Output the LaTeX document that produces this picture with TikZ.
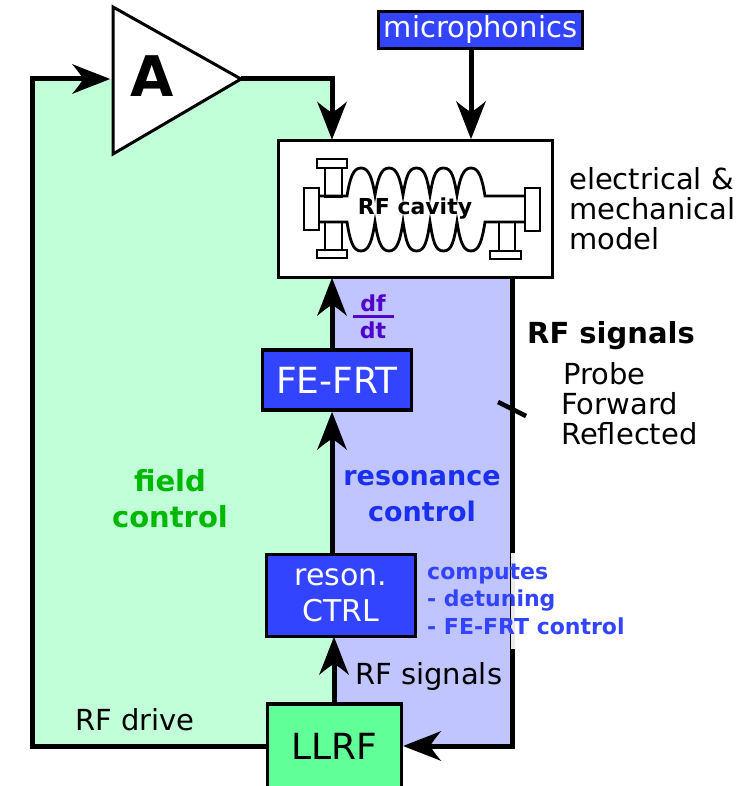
\documentclass[tikz,border=0pt]{standalone}
\usepackage{fontspec}
\setmainfont{DejaVu Sans}
\usetikzlibrary{arrows.meta,calc}
\definecolor{fieldbg}{HTML}{C0FFD8}
\definecolor{resbg}{HTML}{C0C4FF}
\definecolor{boxblue}{HTML}{3344FF}
\definecolor{llrfgreen}{HTML}{60FF98}
\definecolor{fieldtxt}{HTML}{00B800}
\definecolor{restxt}{HTML}{1A30F0}
\definecolor{dfcol}{HTML}{5200CC}
\pgfdeclarearrow{
  name=BarbTip,
  setup code={\pgfarrowssettipend{0pt}\pgfarrowssetlineend{-26pt}\pgfarrowssetbackend{-38pt}\pgfarrowssetvisualbackend{-26pt}\pgfarrowshullpoint{0pt}{0pt}\pgfarrowshullpoint{-38pt}{14.5pt}\pgfarrowshullpoint{-38pt}{-14.5pt}},
  drawing code={
    \pgfpathmoveto{\pgfqpoint{0pt}{0pt}}
    \pgfpathcurveto{\pgfqpoint{-12pt}{5pt}}{\pgfqpoint{-26pt}{10pt}}{\pgfqpoint{-38pt}{15pt}}
    \pgfpathcurveto{\pgfqpoint{-33pt}{9pt}}{\pgfqpoint{-29pt}{4pt}}{\pgfqpoint{-27pt}{0pt}}
    \pgfpathcurveto{\pgfqpoint{-29pt}{-4pt}}{\pgfqpoint{-33pt}{-9pt}}{\pgfqpoint{-38pt}{-15pt}}
    \pgfpathcurveto{\pgfqpoint{-26pt}{-10pt}}{\pgfqpoint{-12pt}{-5pt}}{\pgfqpoint{0pt}{0pt}}
    \pgfpathclose\pgfusepathqfill
  }
}
\tikzset{
  x=1pt,y=-1pt,
  tip/.style={-{BarbTip}},
  wire/.style={line width=5pt,black,line join=miter},
  bluebox/.style={draw=black,line width=3.5pt,fill=boxblue,text=white,inner sep=0pt,align=center,font=\fontsize{29}{34}\selectfont},
  lab/.style={inner sep=0pt,align=left,font=\fontsize{29}{30}\selectfont},
  cav/.style={line width=2.8pt,black,line join=miter,fill=white},
}
\begin{document}
\begin{tikzpicture}
\useasboundingbox (0,0) rectangle (743,786);
% regions
\fill[fieldbg] (32,79) -- (332,79) -- (332,746) -- (32,746) -- cycle;
\fill[resbg] (332,277) rectangle (512,746);
% named points
\coordinate (corner1) at (32,79);
\coordinate (ampin) at (110,79);
\coordinate (ampout) at (241,79);
\coordinate (corner2) at (332,79);
\coordinate (tl) at (113,7);
\coordinate (bl) at (113,154);
\coordinate (tickA) at (498,402);
\coordinate (tickB) at (526,416);
% boxes
\node[draw=black,line width=3pt,fill=white,minimum width=274pt,minimum height=136pt,inner sep=0pt] (cavity) at (415.5,209) {};
\node[bluebox,minimum width=204pt,minimum height=37pt] (micro) at (480.5,30) {\smash{\raisebox{-8pt}{microphonics}}};
\node[bluebox,minimum width=149pt,minimum height=60pt,font=\fontsize{36}{40}\selectfont] (fefrt) at (337,380) {FE-FRT};
\node[bluebox,minimum width=149pt,minimum height=82pt,font=\fontsize{30}{36}\selectfont] (reson) at (341,595.5) {reson.\\CTRL};
\node[draw=black,line width=3.5pt,fill=llrfgreen,minimum width=134pt,minimum height=84pt,inner sep=0pt,font=\fontsize{36}{40}\selectfont] (llrf) at (334.5,746) {LLRF};
% wires
\draw[wire,tip] (llrf.west) -| (corner1) -- (ampin);
\draw[wire,tip] (ampout) -- (corner2) -- (corner2 |- cavity.north);
\draw[wire,tip] (micro.south -| 471,0) -- (471,139);
\draw[wire,tip] (332,350) -- (332,278);
\draw[wire,tip] (332,553) -- (332,412);
\draw[wire,tip] (334,704) -- (334,637);
\draw[wire,tip] (512,278) |- (llrf.east);
\draw[line width=4.5pt] (tickA) -- (tickB);
% amplifier
\draw[line width=3pt,fill=white,line join=miter] (tl) -- (ampout) -- (bl) -- cycle;
\node[inner sep=0pt,font=\bfseries\fontsize{56}{56}\selectfont] (amp) at (152,76) {A};
% cavity drawing
\draw[cav] (325,168) rectangle (342,197);
\draw[cav] (325,222) rectangle (342,251);
\draw[cav] (499,222) rectangle (515,252);
\draw[cav] (317,159) rectangle (347,168);
\draw[cav] (317,250) rectangle (347,258);
\draw[cav] (490,251) rectangle (521,259);
\draw[cav] (304,188) rectangle (319,230);
\draw[cav] (525,188) rectangle (540,231);
\draw[cav,fill=none] (319,196) -- (347,196)
  .. controls (350,178) and (353,168) .. (361,168) .. controls (369,168) and (372,178) .. (375,195)
  .. controls (378,178) and (381,168) .. (389,168) .. controls (397,168) and (400,178) .. (403,195)
  .. controls (406,178) and (408,168) .. (416.5,168) .. controls (425,168) and (427,178) .. (430,195)
  .. controls (433,178) and (435,168) .. (443.5,168) .. controls (452,168) and (454,178) .. (457,195)
  .. controls (460,178) and (463,168) .. (471,168) .. controls (479,168) and (482,178) .. (485,196) -- (525,196);
\draw[cav,fill=none] (319,222) -- (347,222)
  .. controls (350,241) and (353,251) .. (361,251) .. controls (369,251) and (372,241) .. (375,222)
  .. controls (378,241) and (381,251) .. (389,251) .. controls (397,251) and (400,241) .. (403,222)
  .. controls (406,241) and (408,251) .. (416.5,251) .. controls (425,251) and (427,241) .. (430,222)
  .. controls (433,241) and (435,251) .. (443.5,251) .. controls (452,251) and (454,241) .. (457,222)
  .. controls (460,241) and (463,251) .. (471,251) .. controls (479,251) and (482,241) .. (485,222) -- (525,222);
\node[inner sep=0pt,font=\bfseries\fontsize{22}{24}\selectfont] (cavtxt) at (415,209) {RF cavity};
% strip behind computes
\fill[white!92!black] (510.5,553) rectangle (515,649);
% labels
\node[lab,anchor=west] (model) at (569,209) {electrical \&\\mechanical\\model};
\node[lab,anchor=west,font=\bfseries\fontsize{29}{30}\selectfont] (rfs) at (527,336) {RF signals};
\node[lab,anchor=west] (probe) at (563,374) {Probe};
\node[lab,anchor=west] (forward) at (561,404) {Forward};
\node[lab,anchor=west] (refl) at (561,434) {Reflected};
\node[inner sep=0pt,align=center,text=fieldtxt,font=\bfseries\fontsize{29}{36}\selectfont] (field) at (170,498.5) {field\\control};
\node[inner sep=0pt,align=center,text=restxt,font=\bfseries\fontsize{27}{36}\selectfont] (res) at (422,496.5) {resonance\\control};
\node[inner sep=0pt,anchor=west,align=left,text=boxblue,font=\bfseries\fontsize{22}{27.5}\selectfont] (comp) at (427,599) {computes\\- detuning\\- FE-FRT control};
\node[lab,anchor=west] (rfs2) at (355,676) {RF signals};
\node[lab,anchor=west] (drive) at (75,720) {RF drive};
\node[inner sep=0pt,text=dfcol,font=\bfseries\fontsize{22}{22}\selectfont] (df) at (373,303) {df};
\node[inner sep=0pt,text=dfcol,font=\bfseries\fontsize{22}{22}\selectfont] (dt) at (373,330) {dt};
\draw[dfcol,line width=3pt] (353,316) -- (394,316);
\end{tikzpicture}
\end{document}
